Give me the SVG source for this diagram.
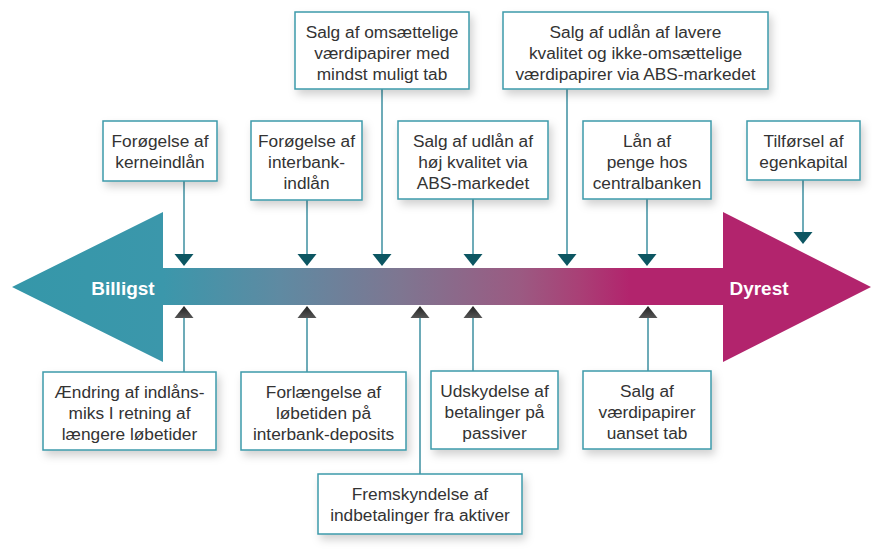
<svg xmlns="http://www.w3.org/2000/svg" width="872" height="554" viewBox="0 0 872 554">
<defs>
<linearGradient id="g" gradientUnits="userSpaceOnUse" x1="12" y1="0" x2="871" y2="0">
<stop offset="0" stop-color="#3597a9"/>
<stop offset="0.176" stop-color="#3b97ab"/>
<stop offset="0.312" stop-color="#5f8aa2"/>
<stop offset="0.452" stop-color="#7e7691"/>
<stop offset="0.591" stop-color="#9b5a82"/>
<stop offset="0.66" stop-color="#a94076"/>
<stop offset="0.719" stop-color="#b2246d"/>
<stop offset="1" stop-color="#b2246d"/>
</linearGradient>
<linearGradient id="up" x1="0" y1="0" x2="0" y2="1">
<stop offset="0" stop-color="#222"/>
<stop offset="1" stop-color="#555"/>
</linearGradient>
<filter id="sh" x="-20%" y="-20%" width="150%" height="160%">
<feDropShadow dx="3" dy="5" stdDeviation="4" flood-color="#000" flood-opacity="0.18"/>
</filter>
</defs>
<style>
.box{fill:#fff;stroke:#3d9aab;stroke-width:1.5;filter:url(#sh)}
.t{font-family:"Liberation Sans",Arial,sans-serif;font-size:17.3px;fill:#333;text-anchor:middle}
.big{font-family:"Liberation Sans",Arial,sans-serif;font-size:19px;font-weight:bold;fill:#fff;text-anchor:middle}
.ln{stroke:#3d8fa0;stroke-width:1.5;fill:none}
.dh{fill:#0c5662}
.uh{fill:url(#up)}
</style>
<g id="arrow">
<polygon points="12,287 163,212 163,268 723,268 723,212 871,287 723,362 723,305 163,305 163,362" fill="url(#g)"/>
<text class="big" x="123" y="295">Billigst</text>
<text class="big" x="759" y="295">Dyrest</text>
</g>
<g id="connectors">
<line class="ln" x1="184" y1="181" x2="184" y2="255"/>
<line class="ln" x1="307" y1="200" x2="307" y2="255"/>
<line class="ln" x1="382" y1="89" x2="382" y2="255"/>
<line class="ln" x1="473" y1="199" x2="473" y2="255"/>
<line class="ln" x1="567" y1="89" x2="567" y2="255"/>
<line class="ln" x1="647" y1="199" x2="647" y2="255"/>
<line class="ln" x1="803" y1="180" x2="803" y2="233"/>
<polygon class="dh" points="174.5,254 193.5,254 184,266"/>
<polygon class="dh" points="297.5,254 316.5,254 307,266"/>
<polygon class="dh" points="372.5,254 391.5,254 382,266"/>
<polygon class="dh" points="463.5,254 482.5,254 473,266"/>
<polygon class="dh" points="557.5,254 576.5,254 567,266"/>
<polygon class="dh" points="637.5,254 656.5,254 647,266"/>
<polygon class="dh" points="793.5,232 812.5,232 803,244"/>
<line class="ln" x1="184" y1="317" x2="184" y2="372"/>
<line class="ln" x1="307" y1="317" x2="307" y2="372"/>
<line class="ln" x1="420" y1="317" x2="420" y2="474"/>
<line class="ln" x1="473" y1="317" x2="473" y2="371"/>
<line class="ln" x1="648" y1="317" x2="648" y2="371"/>
<polygon class="uh" points="174.5,318 193.5,318 184,306"/>
<polygon class="uh" points="297.5,318 316.5,318 307,306"/>
<polygon class="uh" points="410.5,318 429.5,318 420,306"/>
<polygon class="uh" points="463.5,318 482.5,318 473,306"/>
<polygon class="uh" points="638.5,318 657.5,318 648,306"/>
</g>
<g id="n1">
<rect class="box" x="103" y="121" width="114" height="60"/>
<text class="t" x="160" y="147">Forøgelse af</text>
<text class="t" x="160" y="168">kerneindlån</text>
</g>
<g id="n2">
<rect class="box" x="251" y="121" width="111" height="79"/>
<text class="t" x="306.5" y="147">Forøgelse af</text>
<text class="t" x="306.5" y="168">interbank-</text>
<text class="t" x="306.5" y="189">indlån</text>
</g>
<g id="n3">
<rect class="box" x="295" y="12" width="174" height="77"/>
<text class="t" x="382" y="38">Salg af omsættelige</text>
<text class="t" x="382" y="59">værdipapirer med</text>
<text class="t" x="382" y="80">mindst muligt tab</text>
</g>
<g id="n4">
<rect class="box" x="398" y="121" width="150" height="78"/>
<text class="t" x="473" y="147">Salg af udlån af</text>
<text class="t" x="473" y="168">høj kvalitet via</text>
<text class="t" x="473" y="189">ABS-markedet</text>
</g>
<g id="n5">
<rect class="box" x="503" y="12" width="265" height="77"/>
<text class="t" x="635.5" y="38">Salg af udlån af lavere</text>
<text class="t" x="635.5" y="59">kvalitet og ikke-omsættelige</text>
<text class="t" x="635.5" y="80">værdipapirer via ABS-markedet</text>
</g>
<g id="n6">
<rect class="box" x="583" y="121" width="128" height="78"/>
<text class="t" x="647" y="147">Lån af</text>
<text class="t" x="647" y="168">penge hos</text>
<text class="t" x="647" y="189">centralbanken</text>
</g>
<g id="n7">
<rect class="box" x="747" y="121" width="113" height="59"/>
<text class="t" x="803.5" y="147">Tilførsel af</text>
<text class="t" x="803.5" y="168">egenkapital</text>
</g>
<g id="n8">
<rect class="box" x="43" y="372" width="173" height="78"/>
<text class="t" x="129.5" y="398">Ændring af indlåns-</text>
<text class="t" x="129.5" y="419">miks I retning af</text>
<text class="t" x="129.5" y="440">længere løbetider</text>
</g>
<g id="n9">
<rect class="box" x="241" y="372" width="165" height="78"/>
<text class="t" x="323.5" y="398">Forlængelse af</text>
<text class="t" x="323.5" y="419">løbetiden på</text>
<text class="t" x="323.5" y="440">interbank-deposits</text>
</g>
<g id="n10">
<rect class="box" x="431" y="371" width="127" height="78"/>
<text class="t" x="494.5" y="397">Udskydelse af</text>
<text class="t" x="494.5" y="418">betalinger på</text>
<text class="t" x="494.5" y="439">passiver</text>
</g>
<g id="n11">
<rect class="box" x="583" y="371" width="128" height="78"/>
<text class="t" x="647" y="397">Salg af</text>
<text class="t" x="647" y="418">værdipapirer</text>
<text class="t" x="647" y="439">uanset tab</text>
</g>
<g id="n12">
<rect class="box" x="318" y="474" width="204" height="60"/>
<text class="t" x="420" y="500">Fremskyndelse af</text>
<text class="t" x="420" y="521">indbetalinger fra aktiver</text>
</g>
</svg>
